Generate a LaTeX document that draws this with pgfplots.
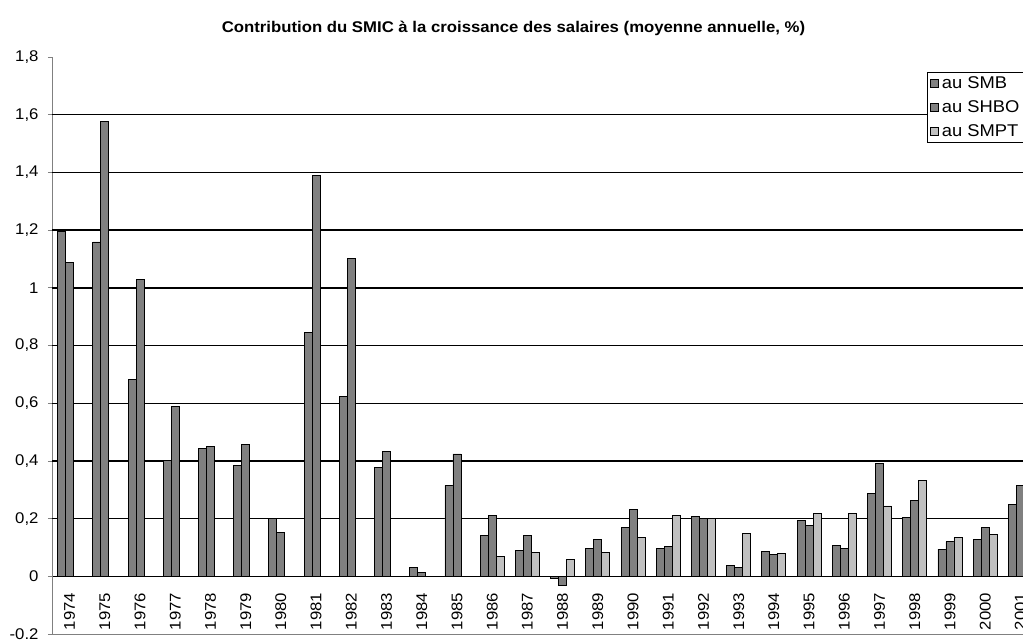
\documentclass[border=0pt]{standalone}
\usepackage{pgfplots}
\pgfplotsset{compat=1.18}
\usepackage{fontspec}
\setmainfont{Liberation Sans}[FakeStretch=1.08]
\definecolor{cA}{HTML}{808080}
\definecolor{cB}{HTML}{808080}
\definecolor{cC}{HTML}{C0C0C0}
\begin{document}
\begin{tikzpicture}
\begin{axis}[
  name=ax, scale only axis, width=986pt, height=577pt,
  xmin=-0.5, xmax=27.5, ymin=-0.2, ymax=1.8,
  axis x line*=middle, axis y line*=left,
  x axis line style={draw=black, line width=0.8pt, -},
  y axis line style={draw=gray, line width=0.8pt, -},
  ybar=0pt, bar width=8pt,
  xtick={0,...,27},
  xticklabels={1974,1975,1976,1977,1978,1979,1980,1981,1982,1983,1984,1985,1986,1987,1988,1989,1990,1991,1992,1993,1994,1995,1996,1997,1998,1999,2000,2001},
  major x tick style={draw=none},
  x tick label style={yshift=-9pt, rotate=90, anchor=east, font=\fontsize{15.5}{18}\selectfont},
  extra x ticks={-0.5,0.5,1.5,2.5,3.5,4.5,5.5,6.5,7.5,8.5,9.5,10.5,11.5,12.5,13.5,14.5,15.5,16.5,17.5,18.5,19.5,20.5,21.5,22.5,23.5,24.5,25.5,26.5,27.5},
  extra x tick labels={},
  extra x tick style={major tick length=4pt, tick align=outside, tick style={draw=black, line width=0.8pt}},
  ytick={-0.2,0,0.2,0.4,0.6,0.8,1,1.2,1.4,1.6,1.8},
  yticklabels={-0.2,0,{0,2},{0,4},{0,6},{0,8},1,{1,2},{1,4},{1,6},{1,8}},
  y tick style={draw=gray, line width=0.8pt},
  major tick length=4pt, tick align=outside,
  y tick label style={font=\fontsize{15.5}{18}\selectfont, xshift=-6pt},
  extra y ticks={0.2,0.4,0.6,0.8,1,1.2,1.4,1.6},
  extra y tick labels={},
  extra y tick style={ymajorgrids=true, major grid style={draw=black, line width=1.4pt}, major tick length=0pt},
  title={Contribution du SMIC à la croissance des salaires (moyenne annuelle, \%)},
  title style={font=\bfseries\fontsize{15.5}{18}\selectfont, at={(0.468,1)}, anchor=center, yshift=23pt},
  legend style={at={(0.8874,0.974)}, anchor=north west, draw=black, line width=0.6pt,
    font=\fontsize{17}{20}\selectfont, inner xsep=3pt, inner ysep=3pt, row sep=9pt,
    nodes={inner sep=1pt}},
  legend cell align=left,
  legend image code/.code={\draw[#1, draw=black, line width=0.6pt] (0pt,-4pt) rectangle (8pt,4pt);},
]
\addplot[fill=cA, draw=black, line width=0.8pt] coordinates {(0,1.194)(1,1.159)(2,0.683)(3,0.403)(4,0.443)(5,0.385)(6,0.199)(7,0.845)(8,0.624)(9,0.377)(10,0.030)(11,0.315)(12,0.141)(13,0.089)(14,-0.007)(15,0.098)(16,0.169)(17,0.096)(18,0.206)(19,0.037)(20,0.087)(21,0.193)(22,0.108)(23,0.287)(24,0.205)(25,0.094)(26,0.128)(27,0.248)};
\addplot[fill=cB, draw=black, line width=0.8pt] coordinates {(0,1.089)(1,1.576)(2,1.030)(3,0.588)(4,0.450)(5,0.456)(6,0.151)(7,1.390)(8,1.103)(9,0.433)(10,0.014)(11,0.424)(12,0.210)(13,0.141)(14,-0.030)(15,0.129)(16,0.231)(17,0.105)(18,0.200)(19,0.031)(20,0.075)(21,0.176)(22,0.096)(23,0.390)(24,0.263)(25,0.120)(26,0.168)(27,0.315)};
\addplot[fill=cC, draw=black, line width=0.8pt] coordinates {(12,0.068)(13,0.082)(14,0.058)(15,0.084)(16,0.134)(17,0.210)(18,0.199)(19,0.148)(20,0.080)(21,0.219)(22,0.219)(23,0.244)(24,0.332)(25,0.134)(26,0.144)};
\legend{\hspace{2pt}au SMB, \hspace{2pt}au SHBO, \hspace{2pt}au SMPT\hspace{25pt}}
\draw[gray, line width=0.8pt] (rel axis cs:0,0) -- (rel axis cs:1,0);
\coordinate (bl) at (rel axis cs:0,0);
\end{axis}
\pgfresetboundingbox
\path[use as bounding box] ([xshift=-52pt,yshift=-7pt]bl) rectangle ([xshift=971pt,yshift=634pt]bl);
\end{tikzpicture}
\end{document}
